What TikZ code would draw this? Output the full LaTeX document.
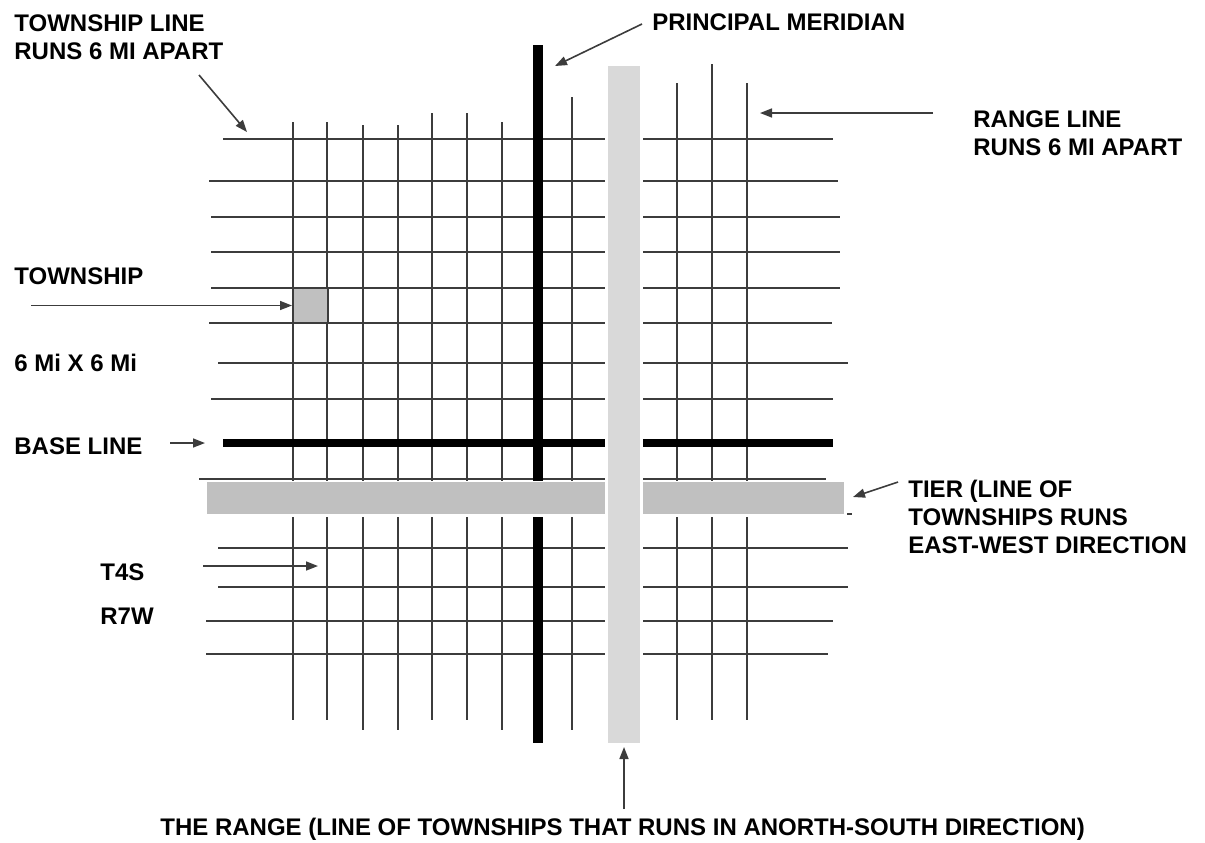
\documentclass[tikz,border=0pt]{standalone}
\usepackage{fontspec}
\setmainfont{Liberation Sans}
\usepackage{tikz}
\usetikzlibrary{arrows.meta,positioning}
\definecolor{gridgray}{RGB}{60,60,60}
\definecolor{tiergray}{RGB}{192,192,192}
\definecolor{rangegray}{RGB}{217,217,217}

\begin{document}
\begin{tikzpicture}[
  x=0.5pt, y=-0.5pt,
  gridline/.style={draw=gridgray, line width=1pt},
  mainline/.style={draw=black, line width=4.5pt},
  twpsq/.style={
    rectangle, draw=gridgray, fill=tiergray,
    line width=1pt, minimum size=17.5pt, inner sep=0pt
  },
  lbl/.style={
    font=\fontsize{12}{14}\selectfont\bfseries,
    anchor=north west, inner sep=0pt, align=left
  },
  arr/.style={-{Triangle[length=6pt,width=4.5pt]}, line width=0.8pt, draw=gridgray}
]
\useasboundingbox (0,0) rectangle (1205,842);

% township lines
\foreach \y/\xa/\xb in {139/223/833, 181/209/838, 217/211/840, 252/211/840,
    288/211/840, 323/209/832, 363/218/848, 399/211/833, 479/199/826,
    548/218/848, 587/218/848, 621/206/833, 654/206/828}
  \draw[gridline] (\xa,\y) -- (\xb,\y);

% range lines
\foreach \x/\ya/\yb in {293/122/720, 327/122/720, 363/125/730, 398/125/730,
    432/113/720, 467/113/720, 502/122/730, 572/97/730,
    677/83/720, 712/64/720, 747/83/720}
  \draw[gridline] (\x,\ya) -- (\x,\yb);

\draw[mainline, line width=5pt] (538,45) -- (538,743);
\draw[mainline, line width=4pt] (223,443) -- (833,443);

% tier
\fill[white] (199,481) rectangle (852,517);
\fill[tiergray] (207,482) rectangle (844,514);
\draw[gridline] (847,514) -- (852,514);

% range
\fill[white] (605,60) rectangle (643,746);
\fill[rangegray] (608,66) rectangle (640,743);

\node[twpsq] (twp) at (310.5,305.5) {};

\node[lbl] (twplinelbl) at (14,14) {TOWNSHIP LINE\\[0pt]RUNS 6 MI APART};
\node[lbl] (meridianlbl) at (652,13) {PRINCIPAL MERIDIAN};
\node[lbl] (rangelinelbl) at (973,110) {RANGE LINE\\RUNS 6 MI APART};
\node[lbl] (twplbl) at (14,267) {TOWNSHIP};
\node[lbl] (sizelbl) at (14,354) {6 Mi X 6 Mi};
\node[lbl] (baselbl) at (14,437) {BASE LINE};
\node[lbl] (tierlbl) at (908,480) {TIER (LINE OF\\TOWNSHIPS RUNS\\EAST-WEST DIRECTION};
\node[lbl] (t4slbl) at (100,563) {T4S};
\node[lbl] (r7wlbl) at (100,608) {R7W};
\node[lbl] (rangelbl) at (160,818)
  {THE RANGE (LINE OF TOWNSHIPS THAT RUNS IN ANORTH-SOUTH DIRECTION)};

\coordinate (twplineFrom) at (199,75);
\coordinate (twplineTo) at (247,132);
\coordinate (meridianFrom) at (642,24);
\coordinate (meridianTo) at (555,66);
\coordinate (rangelineFrom) at (933,113);
\coordinate (rangelineTo) at (760,113);
\coordinate (twpFrom) at (31,305.5);
\coordinate (baseFrom) at (170,443);
\coordinate (baseTo) at (205,443);
\coordinate (tierFrom) at (898,482);
\coordinate (tierTo) at (853,497);
\coordinate (t4sFrom) at (203,566);
\coordinate (t4sTo) at (318,566);
\coordinate (rangeFrom) at (624,809);
\coordinate (rangeTo) at (624,747);

\draw[arr] (twplineFrom) -- (twplineTo);
\draw[arr] (meridianFrom) -- (meridianTo);
\draw[arr] (rangelineFrom) -- (rangelineTo);
\draw[arr] (twpFrom) -- (twp.west);
\draw[arr] (baseFrom) -- (baseTo);
\draw[arr] (tierFrom) -- (tierTo);
\draw[arr] (t4sFrom) -- (t4sTo);
\draw[arr] (rangeFrom) -- (rangeTo);

\end{tikzpicture}
\end{document}
